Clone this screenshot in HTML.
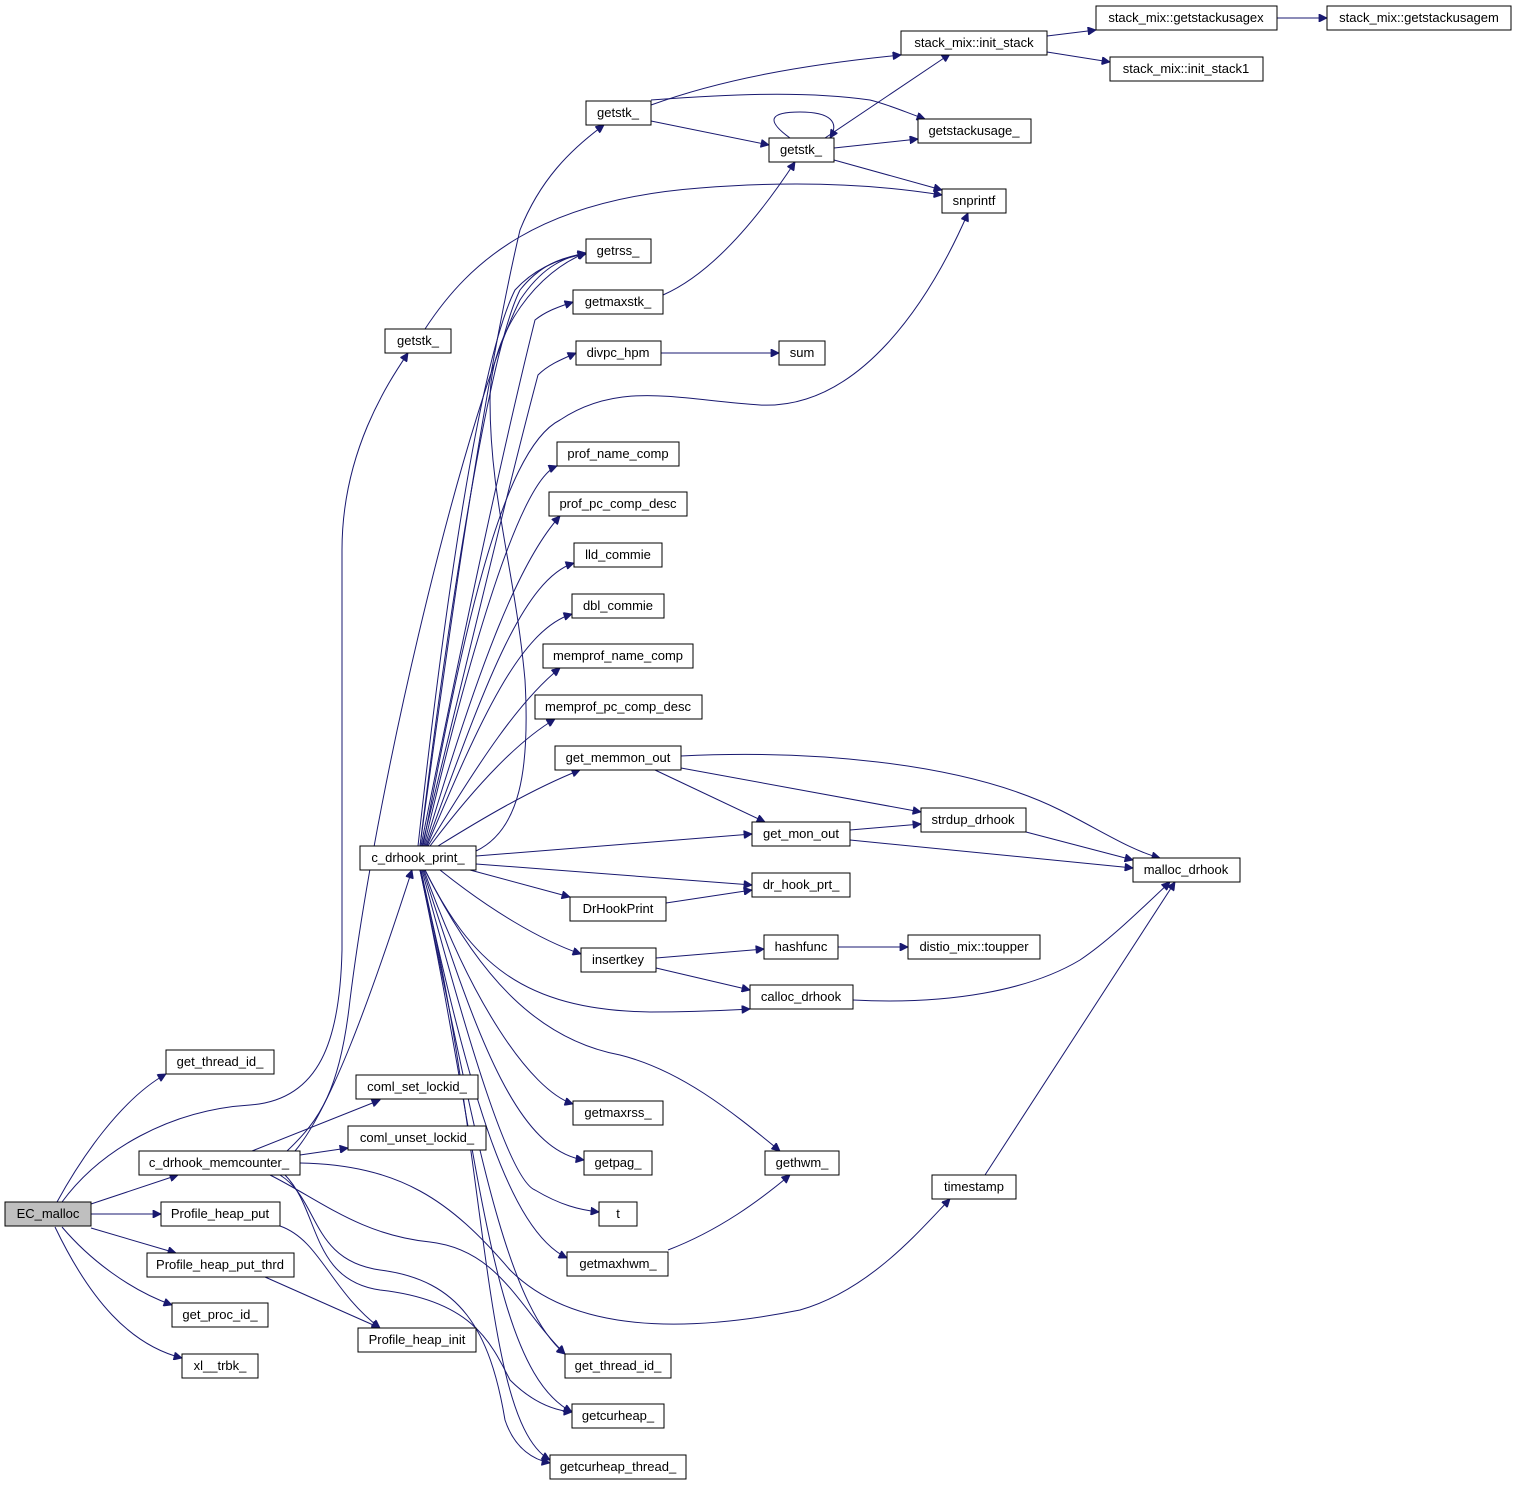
<!DOCTYPE html>
<html><head><meta charset="utf-8"><style>
html,body{margin:0;padding:0;background:#fff;}
svg{display:block;}
text{font-family:"Liberation Sans",sans-serif;font-size:13px;fill:#000;text-anchor:middle;}
.n{fill:#fff;stroke:#000;stroke-width:1;}
.e{fill:none;stroke:#191970;stroke-width:1;}
</style></head><body>
<svg width="1519" height="1487" viewBox="0 0 1519 1487" xmlns="http://www.w3.org/2000/svg">
<defs><marker id="a" viewBox="0 0 10 10" refX="10" refY="5" markerWidth="11" markerHeight="8" markerUnits="userSpaceOnUse" orient="auto"><path d="M0,0 L10,5 L0,10 z" fill="#191970" stroke="#191970"/></marker></defs>
<g class="e" marker-end="url(#a)">
<path d="M57,1202 C80,1160 120,1100 166,1074"/>
<path d="M62,1202 C100,1150 170,1110 250,1105 C320,1100 340,1040 342,950 L342,550 C342,450 390,380 408,353"/>
<path d="M287,1151 C320,1120 340,1090 350,1000 C380,760 470,400 520,300 C540,270 560,258 586,253"/>
<path d="M295,1151 C330,1110 370,1000 412,870"/>
<path d="M252,1151 L380,1100"/>
<path d="M300,1155 L348,1148"/>
<path d="M300,1163 C400,1165 450,1200 510,1270 C560,1320 650,1340 800,1310 C870,1290 920,1230 950,1199"/>
<path d="M270,1175 C320,1200 360,1235 430,1242 C500,1250 520,1310 565,1354"/>
<path d="M285,1175 C320,1210 310,1280 380,1290 C470,1300 490,1340 510,1380 C530,1400 550,1410 572,1412"/>
<path d="M280,1175 C320,1200 310,1260 380,1270 C460,1280 490,1330 505,1420 C515,1450 535,1460 550,1463"/>
<path d="M280,1226 C320,1240 330,1290 380,1328"/>
<path d="M265,1277 L380,1328"/>
<path d="M91,1204 L178,1175"/>
<path d="M91,1214 L161,1214"/>
<path d="M91,1228 L176,1253"/>
<path d="M62,1227 C90,1260 130,1290 172,1305"/>
<path d="M55,1227 C90,1300 130,1345 182,1358"/>
<path d="M425,329 C470,260 540,200 700,188 C800,180 880,185 942,195"/>
<path d="M420,846 C440,700 480,400 520,230 C540,180 570,150 604,125"/>
<path d="M420,846 C450,600 490,350 520,290 C540,265 560,258 586,253"/>
<path d="M418,846 C445,600 480,360 515,290 C535,268 560,258 586,254"/>
<path d="M421,846 C470,600 510,420 535,320 C545,312 555,308 573,302"/>
<path d="M422,846 C470,650 510,480 538,375 C548,365 560,360 576,353"/>
<path d="M423,846 C460,650 500,450 560,420 C620,380 680,400 760,405 C860,410 930,300 968,213"/>
<path d="M424,846 C470,650 520,480 557,466"/>
<path d="M425,846 C480,660 520,560 560,516"/>
<path d="M426,846 C480,700 520,580 574,563"/>
<path d="M427,846 C480,720 520,630 572,614"/>
<path d="M428,846 C480,760 520,700 560,668"/>
<path d="M430,846 C480,780 520,740 555,719"/>
<path d="M438,846 C480,820 530,790 580,770"/>
<path d="M476,851 C520,830 530,770 525,680 C515,570 490,500 490,400 C490,330 540,270 586,253"/>
<path d="M476,856 L752,834"/>
<path d="M476,864 L752,885"/>
<path d="M470,870 L570,897"/>
<path d="M440,870 C490,910 540,940 581,954"/>
<path d="M425,870 C470,960 520,1010 650,1012 C700,1012 730,1010 750,1009"/>
<path d="M425,870 C480,980 540,1040 620,1055 C680,1070 730,1110 780,1151"/>
<path d="M424,870 C470,1000 530,1090 573,1104"/>
<path d="M423,870 C480,1050 520,1150 584,1160"/>
<path d="M422,870 C470,1050 510,1180 535,1190 C560,1205 580,1210 599,1212"/>
<path d="M421,870 C470,1100 510,1230 567,1258"/>
<path d="M420,870 C470,1100 500,1300 565,1354"/>
<path d="M420,870 C480,1150 490,1370 572,1412"/>
<path d="M420,870 C490,1150 480,1420 550,1460"/>
<path d="M651,105 C720,80 800,65 901,55"/>
<path d="M651,100 C720,95 800,90 870,100 C890,105 905,112 925,119"/>
<path d="M651,121 L769,145"/>
<path d="M790,138 C765,120 770,112 800,112 C830,112 840,122 830,138"/>
<path d="M825,138 L950,54"/>
<path d="M834,148 L918,139"/>
<path d="M834,160 L942,190"/>
<path d="M663,295 C720,270 770,200 795,162"/>
<path d="M661,353 L779,353"/>
<path d="M1047,36 L1096,30"/>
<path d="M1047,52 L1110,62"/>
<path d="M1277,18 L1327,18"/>
<path d="M681,768 L921,812"/>
<path d="M655,770 L765,822"/>
<path d="M681,756 C800,750 960,760 1060,810 C1100,830 1130,850 1160,858"/>
<path d="M850,830 L921,824"/>
<path d="M850,840 L1133,868"/>
<path d="M1026,832 L1133,860"/>
<path d="M666,903 L752,890"/>
<path d="M656,958 L764,949"/>
<path d="M656,968 L750,990"/>
<path d="M838,947 L908,947"/>
<path d="M853,1000 C950,1005 1030,990 1080,960 C1110,940 1140,910 1170,882"/>
<path d="M668,1250 C720,1230 760,1200 790,1175"/>
<path d="M985,1175 L1175,882"/>
</g>
<g>
<rect x="5" y="1202" width="86" height="24" fill="#bfbfbf" stroke="#000"/><text x="48" y="1218">EC_malloc</text>
<rect class="n" x="166" y="1050" width="108" height="24"/><text x="220" y="1066">get_thread_id_</text>
<rect class="n" x="139" y="1151" width="161" height="24"/><text x="219" y="1167">c_drhook_memcounter_</text>
<rect class="n" x="161" y="1202" width="119" height="24"/><text x="220" y="1218">Profile_heap_put</text>
<rect class="n" x="147" y="1253" width="147" height="24"/><text x="220" y="1269">Profile_heap_put_thrd</text>
<rect class="n" x="172" y="1303" width="96" height="24"/><text x="220" y="1319">get_proc_id_</text>
<rect class="n" x="182" y="1354" width="76" height="24"/><text x="220" y="1370">xl__trbk_</text>
<rect class="n" x="385" y="329" width="66" height="24"/><text x="418" y="345">getstk_</text>
<rect class="n" x="360" y="846" width="116" height="24"/><text x="418" y="862">c_drhook_print_</text>
<rect class="n" x="356" y="1075" width="122" height="24"/><text x="417" y="1091">coml_set_lockid_</text>
<rect class="n" x="348" y="1126" width="138" height="24"/><text x="417" y="1142">coml_unset_lockid_</text>
<rect class="n" x="358" y="1328" width="118" height="24"/><text x="417" y="1344">Profile_heap_init</text>
<rect class="n" x="586" y="101" width="65" height="24"/><text x="618" y="117">getstk_</text>
<rect class="n" x="586" y="239" width="65" height="24"/><text x="618" y="255">getrss_</text>
<rect class="n" x="573" y="290" width="90" height="24"/><text x="618" y="306">getmaxstk_</text>
<rect class="n" x="576" y="341" width="85" height="24"/><text x="618" y="357">divpc_hpm</text>
<rect class="n" x="557" y="442" width="122" height="24"/><text x="618" y="458">prof_name_comp</text>
<rect class="n" x="549" y="492" width="138" height="24"/><text x="618" y="508">prof_pc_comp_desc</text>
<rect class="n" x="574" y="543" width="88" height="24"/><text x="618" y="559">lld_commie</text>
<rect class="n" x="572" y="594" width="92" height="24"/><text x="618" y="610">dbl_commie</text>
<rect class="n" x="543" y="644" width="150" height="24"/><text x="618" y="660">memprof_name_comp</text>
<rect class="n" x="535" y="695" width="167" height="24"/><text x="618" y="711">memprof_pc_comp_desc</text>
<rect class="n" x="555" y="746" width="126" height="24"/><text x="618" y="762">get_memmon_out</text>
<rect class="n" x="570" y="897" width="96" height="24"/><text x="618" y="913">DrHookPrint</text>
<rect class="n" x="581" y="948" width="75" height="24"/><text x="618" y="964">insertkey</text>
<rect class="n" x="573" y="1101" width="90" height="24"/><text x="618" y="1117">getmaxrss_</text>
<rect class="n" x="584" y="1151" width="68" height="24"/><text x="618" y="1167">getpag_</text>
<rect class="n" x="599" y="1202" width="38" height="24"/><text x="618" y="1218">t</text>
<rect class="n" x="567" y="1252" width="101" height="24"/><text x="618" y="1268">getmaxhwm_</text>
<rect class="n" x="565" y="1354" width="106" height="24"/><text x="618" y="1370">get_thread_id_</text>
<rect class="n" x="572" y="1404" width="92" height="24"/><text x="618" y="1420">getcurheap_</text>
<rect class="n" x="550" y="1455" width="136" height="24"/><text x="618" y="1471">getcurheap_thread_</text>
<rect class="n" x="769" y="138" width="65" height="24"/><text x="801" y="154">getstk_</text>
<rect class="n" x="779" y="341" width="46" height="24"/><text x="802" y="357">sum</text>
<rect class="n" x="752" y="822" width="98" height="24"/><text x="801" y="838">get_mon_out</text>
<rect class="n" x="752" y="873" width="98" height="24"/><text x="801" y="889">dr_hook_prt_</text>
<rect class="n" x="764" y="935" width="74" height="24"/><text x="801" y="951">hashfunc</text>
<rect class="n" x="750" y="985" width="103" height="24"/><text x="801" y="1001">calloc_drhook</text>
<rect class="n" x="765" y="1151" width="74" height="24"/><text x="802" y="1167">gethwm_</text>
<rect class="n" x="901" y="31" width="146" height="24"/><text x="974" y="47">stack_mix::init_stack</text>
<rect class="n" x="918" y="119" width="113" height="24"/><text x="974" y="135">getstackusage_</text>
<rect class="n" x="942" y="189" width="64" height="24"/><text x="974" y="205">snprintf</text>
<rect class="n" x="921" y="808" width="105" height="24"/><text x="973" y="824">strdup_drhook</text>
<rect class="n" x="908" y="935" width="132" height="24"/><text x="974" y="951">distio_mix::toupper</text>
<rect class="n" x="932" y="1175" width="84" height="24"/><text x="974" y="1191">timestamp</text>
<rect class="n" x="1133" y="858" width="107" height="24"/><text x="1186" y="874">malloc_drhook</text>
<rect class="n" x="1096" y="6" width="181" height="24"/><text x="1186" y="22">stack_mix::getstackusagex</text>
<rect class="n" x="1110" y="57" width="153" height="24"/><text x="1186" y="73">stack_mix::init_stack1</text>
<rect class="n" x="1327" y="6" width="184" height="24"/><text x="1419" y="22">stack_mix::getstackusagem</text>
</g>
</svg>
</body></html>
